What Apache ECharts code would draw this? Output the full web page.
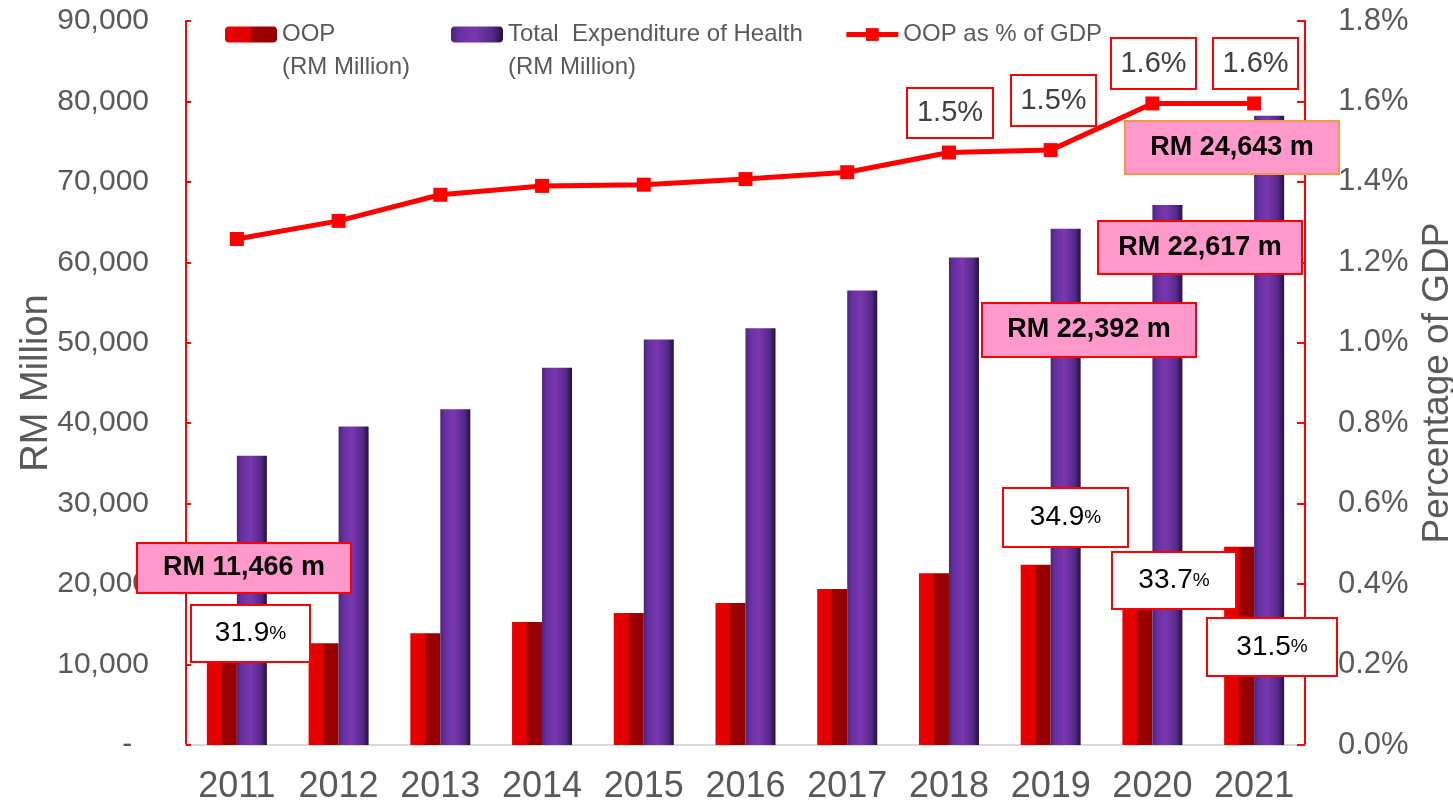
<!DOCTYPE html>
<html>
<head>
<meta charset="utf-8">
<title>OOP and Total Expenditure of Health</title>
<script src="https://cdn.jsdelivr.net/npm/echarts@6/dist/echarts.min.js"></script>
<style>
  html, body { margin: 0; padding: 0; background: #fff; }
  #chart { width: 1453px; height: 805px; }
</style>
</head>
<body>
<div id="chart"></div>
<script>
// values
const years = ["2011", "2012", "2013", "2014", "2015", "2016", "2017", "2018", "2019", "2020", "2021"];
const oop = [11466, 12650, 13890, 15300, 16420, 17660, 19400, 21360, 22392, 22617, 24643];
const totalHealth = [35944, 39600, 41750, 46900, 50400, 51800, 56500, 60600, 64160, 67113, 78232];
const oopGdp = [1.258, 1.303, 1.368, 1.39, 1.393, 1.407, 1.424, 1.473, 1.479, 1.595, 1.595];
const leftTicks = [0, 90000, 10000];
const rightTicks = [0, 1.8, 0.2];

const FONT = "'Liberation Sans', Arial, sans-serif";
const NAME_OOP = "OOP\n(RM Million)";
const NAME_TOTAL = "Total  Expenditure of Health\n(RM Million)";
const NAME_GDP = "OOP as % of GDP";

// annotation boxes (pixel layout only, text comes from the arrays above)
const rmBoxes = [
  { year: "2011", x: 137, y: 543, w: 214, h: 50, border: "#FF0000" },
  { year: "2019", x: 982, y: 303, w: 214, h: 54, border: "#FF0000" },
  { year: "2020", x: 1098, y: 221, w: 204, h: 53, border: "#FF0000" },
  { year: "2021", x: 1125, y: 121, w: 214, h: 53, border: "#F79646" },
];
const shareBoxes = [
  { year: "2011", x: 191, y: 605, w: 119, h: 57 },
  { year: "2019", x: 1003, y: 488, w: 125, h: 59 },
  { year: "2020", x: 1112, y: 552, w: 124, h: 57 },
  { year: "2021", x: 1207, y: 618, w: 130, h: 58 },
];
const gdpBoxes = [
  { year: "2018", x: 907, y: 88, w: 86, h: 50 },
  { year: "2019", x: 1011, y: 75, w: 85, h: 51 },
  { year: "2020", x: 1111, y: 38, w: 85, h: 51 },
  { year: "2021", x: 1213, y: 38, w: 85, h: 51 },
];

function boxGroup(b, fill, textStyle) {
  return {
    type: "group",
    x: b.x,
    y: b.y,
    children: [
      {
        type: "rect",
        z: 100,
        shape: { x: 0, y: 0, width: b.w, height: b.h },
        style: { fill: fill, stroke: b.border || "#FF0000", lineWidth: 2 },
      },
      {
        type: "text",
        z: 101,
        style: Object.assign({ x: b.w / 2, y: b.h / 2, align: "center", verticalAlign: "middle" }, textStyle),
      },
    ],
  };
}

let graphics = [];
rmBoxes.forEach((b) => {
  let i = years.indexOf(b.year);
  graphics.push(
    boxGroup(b, "#FF99CC", {
      text: "RM " + oop[i].toLocaleString("en-US") + " m",
      font: "bold 27px " + FONT,
      fill: "#000",
    })
  );
});
shareBoxes.forEach((b) => {
  let i = years.indexOf(b.year);
  let share = ((oop[i] / totalHealth[i]) * 100).toFixed(1);
  graphics.push(
    boxGroup(b, "#FFFFFF", {
      text: "{n|" + share + "}{p|%}",
      rich: {
        n: { fontSize: 28, fontFamily: FONT, fill: "#000" },
        p: { fontSize: 19, fontFamily: FONT, fill: "#000" },
      },
    })
  );
});
gdpBoxes.forEach((b) => {
  let i = years.indexOf(b.year);
  graphics.push(
    boxGroup(b, "#FFFFFF", {
      text: oopGdp[i].toFixed(1) + "%",
      font: "29px " + FONT,
      fill: "#404040",
    })
  );
});

let chart = echarts.init(document.getElementById("chart"));

let option = {
  animation: false,
  backgroundColor: "#fff",
  grid: { left: 186, right: 148, top: 21, bottom: 60, outerBoundsMode: "none" },
  legend: {
    left: 225,
    top: -15,
    padding: 0,
    itemWidth: 52,
    itemHeight: 16,
    itemGap: 41,
    lineStyle: { width: 5 },
    textStyle: { fontSize: 24, fontFamily: FONT, color: "#595959", lineHeight: 33 },
    // a blank first line keeps the icon level with the first text line
    formatter: (name) => (name.indexOf("\n") >= 0 ? " \n" + name : name),
    data: [NAME_OOP, NAME_TOTAL, NAME_GDP],
  },
  xAxis: {
    type: "category",
    data: years,
    axisLine: { lineStyle: { color: "#D9D9D9", width: 2 } },
    axisTick: { show: false },
    axisLabel: { interval: 0, fontSize: 36, fontFamily: FONT, color: "#595959", margin: 24 },
  },
  yAxis: [
    {
      type: "value",
      min: leftTicks[0],
      max: leftTicks[1],
      interval: leftTicks[2],
      name: "RM Million",
      nameLocation: "middle",
      nameGap: 130,
      nameMoveOverlap: false,
      nameTextStyle: { fontSize: 38, fontFamily: FONT, color: "#595959" },
      axisLine: { show: true, lineStyle: { color: "#FF0000", width: 2 } },
      axisTick: { show: true, inside: true, length: 5, lineStyle: { color: "#FF0000", width: 2 } },
      splitLine: { show: false },
      axisLabel: {
        fontSize: 30,
        fontFamily: FONT,
        color: "#595959",
        margin: 37,
        formatter: (v) => (v === 0 ? "-  " : v.toLocaleString("en-US")),
      },
    },
    {
      type: "value",
      min: rightTicks[0],
      max: rightTicks[1],
      interval: rightTicks[2],
      name: "Percentage of GDP",
      nameLocation: "middle",
      nameGap: 112,
      nameTextStyle: { fontSize: 37, fontFamily: FONT, color: "#595959" },
      axisLine: { show: true, lineStyle: { color: "#FF0000", width: 2 } },
      axisTick: { show: true, inside: true, length: 8, lineStyle: { color: "#FF0000", width: 2 } },
      splitLine: { show: false },
      axisLabel: {
        fontSize: 31,
        fontFamily: FONT,
        color: "#595959",
        margin: 33,
        formatter: (v) => v.toFixed(1) + "%",
      },
    },
  ],
  series: [
    {
      name: NAME_OOP,
      type: "bar",
      barWidth: 30,
      barGap: "0%",
      itemStyle: {
        color: new echarts.graphic.LinearGradient(0, 0, 1, 0, [
          { offset: 0, color: "#E80000" },
          { offset: 0.5, color: "#E00000" },
          { offset: 0.5, color: "#9E0000" },
          { offset: 1, color: "#960000" },
        ]),
      },
      data: oop,
    },
    {
      name: NAME_TOTAL,
      type: "bar",
      barWidth: 30,
      itemStyle: {
        color: new echarts.graphic.LinearGradient(0, 0, 1, 0, [
          { offset: 0, color: "#4A2478" },
          { offset: 0.15, color: "#6630A0" },
          { offset: 0.45, color: "#7A37B0" },
          { offset: 0.8, color: "#55298A" },
          { offset: 1, color: "#24103C" },
        ]),
      },
      data: totalHealth,
    },
    {
      name: NAME_GDP,
      type: "line",
      yAxisIndex: 1,
      z: 5,
      symbol: "rect",
      symbolSize: 14,
      itemStyle: { color: "#FF0000" },
      lineStyle: { color: "#FF0000", width: 5 },
      data: oopGdp,
    },
  ],
  graphic: graphics,
};

chart.setOption(option);
</script>
</body>
</html>
